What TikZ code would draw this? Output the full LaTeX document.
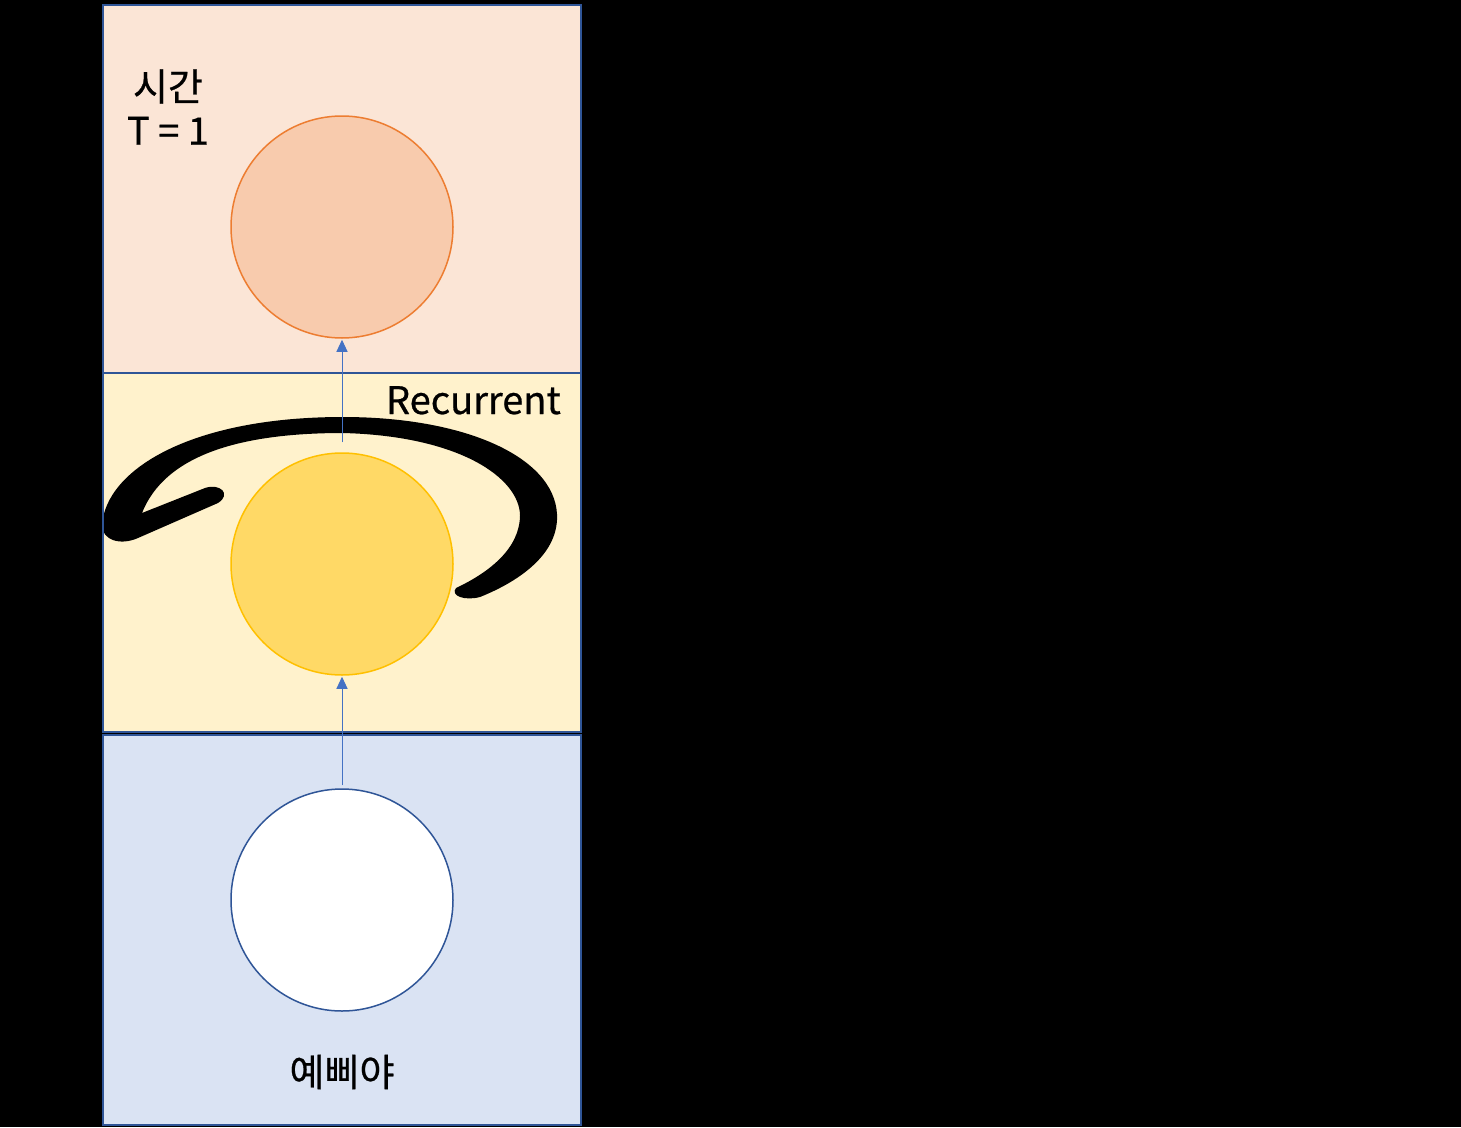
\documentclass[tikz,border=0pt]{standalone}
\usepackage{fontspec}
\newfontfamily\kr[FakeBold=0.6]{Noto Sans CJK KR}
\usetikzlibrary{arrows.meta}
\definecolor{bgTop}{HTML}{FBE5D6}
\definecolor{bgMid}{HTML}{FFF2CC}
\definecolor{bgBot}{HTML}{DAE3F3}
\definecolor{frame}{HTML}{2F5597}
\definecolor{orFill}{HTML}{F8CBAD}
\definecolor{orLine}{HTML}{ED7D31}
\definecolor{yeFill}{HTML}{FFD966}
\definecolor{yeLine}{HTML}{FFC000}
\definecolor{arrBlue}{HTML}{4472C4}
\tikzset{
  panel/.style={draw=frame, line width=2pt},
  unit/.style={circle, minimum size=222pt, inner sep=0pt, line width=1.5pt},
  arr/.style={draw=arrBlue, line width=1pt, -{Triangle[length=12pt,width=11pt]}},
  lbl/.style={font=\kr\fontsize{38}{44}\selectfont, inner sep=0pt, text=black},
}
\begin{document}
\begin{tikzpicture}[x=1pt,y=-1pt]
  \fill[black] (0,0) rectangle (1461,1127);
  \useasboundingbox (0,0) rectangle (1461,1127);
  % panels
  \fill[bgTop] (103,5) rectangle (581,373);
  \fill[bgMid] (103,373) rectangle (581,732);
  \fill[bgBot] (103,735) rectangle (581,1125);
  % recurrent loop stroke
  \fill[black]
    (456,588)
    .. controls (490,572) and (520,548) .. (520,515)
    .. controls (519,478) and (460,436) .. (343,433)
    .. controls (240,433) and (165,455) .. (142,513)
    -- (205,488)
    .. controls (220,483) and (232,494) .. (218,503)
    -- (138,538)
    .. controls (120,546) and (102,540) .. (102,525)
    .. controls (106,470) and (190,417) .. (343,417)
    .. controls (470,417) and (560,460) .. (557,520)
    .. controls (555,560) and (510,585) .. (480,597)
    .. controls (465,601) and (450,596) .. (456,588) -- cycle;
  % panel frames
  \draw[panel] (103,5) rectangle (581,373);
  \draw[panel] (103,373) rectangle (581,732);
  \draw[panel] (103,735) rectangle (581,1125);
  % units
  \node[unit, fill=orFill, draw=orLine] (out) at (342,227) {};
  \node[unit, fill=yeFill, draw=yeLine] (hid) at (342,564) {};
  \node[unit, fill=white, draw=frame] (inp) at (342,900) {};
  % connectors
  \draw[arr, shorten <=3pt, shorten >=1pt] (inp) -- (hid);
  \draw[arr, shorten <=10pt, shorten >=1pt] (hid) -- (out);
  % labels
  \node[lbl, align=center] (time) at (168,107) {시간\\T = 1};
  \node[lbl, anchor=base east] (rec) at (561,414) {Recurrent};
  \node[lbl] (word) at (342,1072) {예삐야};
\end{tikzpicture}
\end{document}
